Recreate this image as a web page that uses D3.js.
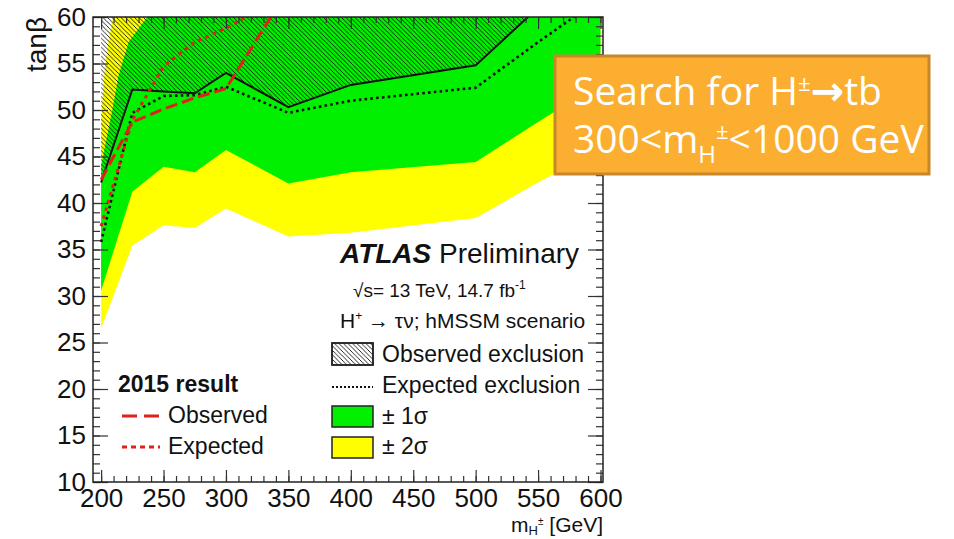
<!DOCTYPE html>
<html>
<head>
<meta charset="utf-8">
<script src="https://cdn.jsdelivr.net/npm/d3@7"></script>
<style>
  body { margin: 0; background: #fff; }
  text { font-family: "Liberation Sans", Arial, Helvetica, sans-serif; fill: #111; }
</style>
</head>
<body>
<script>
// ---- data ----
var mass      = [200, 225, 250, 275, 300, 350, 400, 500, 550, 600];
var observed  = [42.2, 52.2, 52.0, 51.8, 54.0, 50.3, 52.7, 54.8, 61.0, 63.0];
var expected  = [35.8, 49.7, 51.5, 51.6, 52.5, 49.7, 51.0, 52.4, 57.3, 62.0];
var sig1Lo    = [30.6, 41.2, 43.9, 43.3, 45.7, 42.1, 43.3, 44.4, 48.7, 52.9];
var sig2Lo    = [26.5, 35.4, 37.6, 37.3, 39.4, 36.4, 36.8, 38.4, 42.2, 45.8];

var sig1UpMass = [200, 209, 214, 222, 237, 250, 600];
var sig1Up     = [44.0, 50.0, 53.7, 57.3, 60.0, 61.5, 62.0];
var sig2UpMass = [200, 203, 206, 210, 225, 600];
var sig2Up     = [49.0, 54.5, 57.5, 60.3, 63.0, 63.0];

var mass2015 = [200, 225, 250, 275, 300, 350];
var obs2015  = [42.5, 48.7, 50.1, 51.3, 52.3, 63.0];
var exp2015  = [37.5, 48.9, 54.7, 57.3, 58.8, 62.5];

var xMajor = [200, 250, 300, 350, 400, 450, 500, 550, 600];
var yMajor = [10, 15, 20, 25, 30, 35, 40, 45, 50, 55, 60];

var red = "#e0201b";

var svg = d3.select("body").append("svg")
    .attr("width", 954)
    .attr("height", 539);

var x = d3.scaleLinear().domain([193.5, 602]).range([93, 603]);
var y = d3.scaleLinear().domain([10, 60]).range([482, 17]);

var defs = svg.append("defs");
defs.append("clipPath").attr("id", "plot")
  .append("rect")
    .attr("x", x.range()[0]).attr("y", y.range()[1])
    .attr("width", x.range()[1] - x.range()[0])
    .attr("height", y.range()[0] - y.range()[1]);

var hatch = defs.append("pattern")
    .attr("id", "hatch")
    .attr("patternUnits", "userSpaceOnUse")
    .attr("width", 4.5).attr("height", 4.5);
hatch.append("path")
    .attr("d", "M-1,-1L5.5,5.5M-1,3.5L1,5.5M3.5,-1L5.5,1")
    .attr("stroke", "#111").attr("stroke-width", 0.9);

var pts = function(ms, vs){ return ms.map(function(m, i){ return [m, vs[i]]; }); };
var line = d3.line().x(function(d){ return x(d[0]); }).y(function(d){ return y(d[1]); });

var plot = svg.append("g").attr("clip-path", "url(#plot)");

// bands: upper edge forward, lower edge back
var band2 = pts(sig2UpMass, sig2Up).concat(pts(mass, sig2Lo).reverse());
var band1 = pts(sig1UpMass, sig1Up).concat(pts(mass, sig1Lo).reverse());

plot.append("path").attr("d", line(band2) + "Z").attr("fill", "#ffff00");
plot.append("path").attr("d", line(band1) + "Z").attr("fill", "#00f000");

// observed exclusion (above the observed limit)
var yTop = y.domain()[1] + 5;
var excl = pts(mass, observed).concat([[mass[mass.length - 1], yTop], [mass[0], yTop]]);
plot.append("path").attr("d", line(excl) + "Z").attr("fill", "url(#hatch)");

plot.append("path").attr("d", line(pts(mass, expected)))
    .attr("fill", "none").attr("stroke", "#111").attr("stroke-width", 2.6)
    .attr("stroke-dasharray", "2.6,3.2");
plot.append("path").attr("d", line(pts(mass, observed)))
    .attr("fill", "none").attr("stroke", "#111").attr("stroke-width", 2);
plot.append("path").attr("d", line(pts(mass2015, obs2015)))
    .attr("fill", "none").attr("stroke", red).attr("stroke-width", 3)
    .attr("stroke-dasharray", "12,5");
plot.append("path").attr("d", line(pts(mass2015, exp2015)))
    .attr("fill", "none").attr("stroke", red).attr("stroke-width", 3)
    .attr("stroke-dasharray", "3.5,4.5");

// ---- axes, ticks on all four sides pointing in ----
function styleAxis(g){
  g.select(".domain").remove();
  g.selectAll("line").attr("stroke", "#333").attr("stroke-width", 1.2);
  g.selectAll("text").attr("font-size", 26).attr("fill", "#111");
}
var xMinor = d3.range(200, 601, 10);
var yMinor = d3.range(10, 61, 1);

svg.append("g").attr("transform", "translate(0," + y.range()[0] + ")")
    .call(d3.axisBottom(x).tickValues(xMinor).tickSize(-6).tickFormat(""))
    .call(styleAxis);
svg.append("g").attr("transform", "translate(0," + y.range()[0] + ")")
    .call(d3.axisBottom(x).tickValues(xMajor).tickSize(-12).tickPadding(7).tickFormat(d3.format("d")))
    .call(styleAxis);
svg.append("g").attr("transform", "translate(0," + y.range()[1] + ")")
    .call(d3.axisTop(x).tickValues(xMinor).tickSize(-6).tickFormat(""))
    .call(styleAxis);
svg.append("g").attr("transform", "translate(0," + y.range()[1] + ")")
    .call(d3.axisTop(x).tickValues(xMajor).tickSize(-12).tickFormat(""))
    .call(styleAxis);

svg.append("g").attr("transform", "translate(" + x.range()[0] + ",0)")
    .call(d3.axisLeft(y).tickValues(yMinor).tickSize(-7).tickFormat(""))
    .call(styleAxis);
svg.append("g").attr("transform", "translate(" + x.range()[0] + ",0)")
    .call(d3.axisLeft(y).tickValues(yMajor).tickSize(-15).tickPadding(7).tickFormat(d3.format("d")))
    .call(styleAxis);
svg.append("g").attr("transform", "translate(" + x.range()[1] + ",0)")
    .call(d3.axisRight(y).tickValues(yMinor).tickSize(-7).tickFormat(""))
    .call(styleAxis);
svg.append("g").attr("transform", "translate(" + x.range()[1] + ",0)")
    .call(d3.axisRight(y).tickValues(yMajor).tickSize(-15).tickFormat(""))
    .call(styleAxis);

svg.append("rect")
    .attr("x", x.range()[0]).attr("y", y.range()[1])
    .attr("width", x.range()[1] - x.range()[0])
    .attr("height", y.range()[0] - y.range()[1])
    .attr("fill", "none").attr("stroke", "#222").attr("stroke-width", 1.5);

// axis titles
svg.append("text")
    .attr("transform", "translate(46,17) rotate(-90)")
    .attr("text-anchor", "end").attr("font-size", 28)
    .text("tanβ");

var xt = svg.append("text").attr("x", 603).attr("y", 532)
    .attr("text-anchor", "end").attr("font-size", 21);
xt.append("tspan").text("m");
xt.append("tspan").attr("font-size", 13).attr("dy", 3).text("H");
xt.append("tspan").attr("font-size", 10).attr("dy", -10).text("±");
xt.append("tspan").attr("dy", 7).text(" [GeV]");

// ---- ATLAS labels ----
var atl = svg.append("text").attr("x", 340).attr("y", 263).attr("font-size", 28);
atl.append("tspan").attr("font-weight", "bold").attr("font-style", "italic").text("ATLAS");
atl.append("tspan").text(" Preliminary");

var sq = svg.append("text").attr("x", 353).attr("y", 297).attr("font-size", 19);
sq.append("tspan").text("√s= 13 TeV, 14.7 fb");
sq.append("tspan").attr("font-size", 12).attr("dy", -8).text("-1");

var hp = svg.append("text").attr("x", 340).attr("y", 328).attr("font-size", 21);
hp.append("tspan").text("H");
hp.append("tspan").attr("font-size", 12).attr("dy", -8).text("+");
hp.append("tspan").attr("dy", 8).text(" → τν; hMSSM scenario");

// right legend
var lgX = 332, lgW = 41;
svg.append("rect").attr("x", lgX).attr("y", 343).attr("width", lgW).attr("height", 22)
    .attr("fill", "#fff").attr("stroke", "#222").attr("stroke-width", 1.5);
svg.append("rect").attr("x", lgX).attr("y", 343).attr("width", lgW).attr("height", 22)
    .attr("fill", "url(#hatch)").attr("stroke", "#222").attr("stroke-width", 1.5);
svg.append("line").attr("x1", lgX).attr("x2", lgX + lgW).attr("y1", 387).attr("y2", 387)
    .attr("stroke", "#111").attr("stroke-width", 2).attr("stroke-dasharray", "2,2");
svg.append("rect").attr("x", lgX).attr("y", 406).attr("width", lgW).attr("height", 21)
    .attr("fill", "#00f000").attr("stroke", "#222").attr("stroke-width", 1.5);
svg.append("rect").attr("x", lgX).attr("y", 437).attr("width", lgW).attr("height", 21)
    .attr("fill", "#ffff00").attr("stroke", "#222").attr("stroke-width", 1.5);

var legTxt = ["Observed exclusion", "Expected exclusion", "± 1σ", "± 2σ"];
var legY = [362, 393, 424, 454];
svg.selectAll("text.leg").data(legTxt).enter().append("text")
    .attr("class", "leg")
    .attr("x", 382).attr("y", function(d, i){ return legY[i]; })
    .attr("font-size", 23).text(function(d){ return d; });

// left legend (2015)
svg.append("text").attr("x", 118).attr("y", 392).attr("font-size", 23)
    .attr("font-weight", "bold").text("2015 result");
svg.append("line").attr("x1", 122).attr("x2", 160).attr("y1", 416).attr("y2", 416)
    .attr("stroke", red).attr("stroke-width", 3).attr("stroke-dasharray", "15,7");
svg.append("line").attr("x1", 122).attr("x2", 160).attr("y1", 447).attr("y2", 447)
    .attr("stroke", red).attr("stroke-width", 3).attr("stroke-dasharray", "5,4");
svg.append("text").attr("x", 168).attr("y", 423).attr("font-size", 23).text("Observed");
svg.append("text").attr("x", 168).attr("y", 454).attr("font-size", 23).text("Expected");

// ---- orange call-out ----
svg.append("rect").attr("x", 555).attr("y", 56).attr("width", 374).attr("height", 118)
    .attr("fill", "#fbae2f").attr("stroke", "#c8872a").attr("stroke-width", 3);
var b1 = svg.append("text").attr("x", 573).attr("y", 105)
    .style("font-family", "'Open Sans', 'DejaVu Sans', sans-serif").style("fill", "#fff")
    .attr("font-size", 39);
b1.append("tspan").text("Search for H");
b1.append("tspan").attr("font-size", 22).attr("dy", -14).text("±");
b1.append("tspan").attr("dy", 14).style("font-family", "'DejaVu Sans', sans-serif").attr("font-weight", "bold").attr("font-size", 40).text("→");
b1.append("tspan").text("tb");
var b2 = svg.append("text").attr("x", 573).attr("y", 153)
    .style("font-family", "'Open Sans', 'DejaVu Sans', sans-serif").style("fill", "#fff")
    .attr("font-size", 39);
b2.append("tspan").text("300<m");
b2.append("tspan").attr("font-size", 24).attr("dy", 10).text("H");
b2.append("tspan").attr("font-size", 22).attr("dy", -24).text("±");
b2.append("tspan").attr("dy", 14).text("<1000 GeV");
</script>
</body>
</html>
